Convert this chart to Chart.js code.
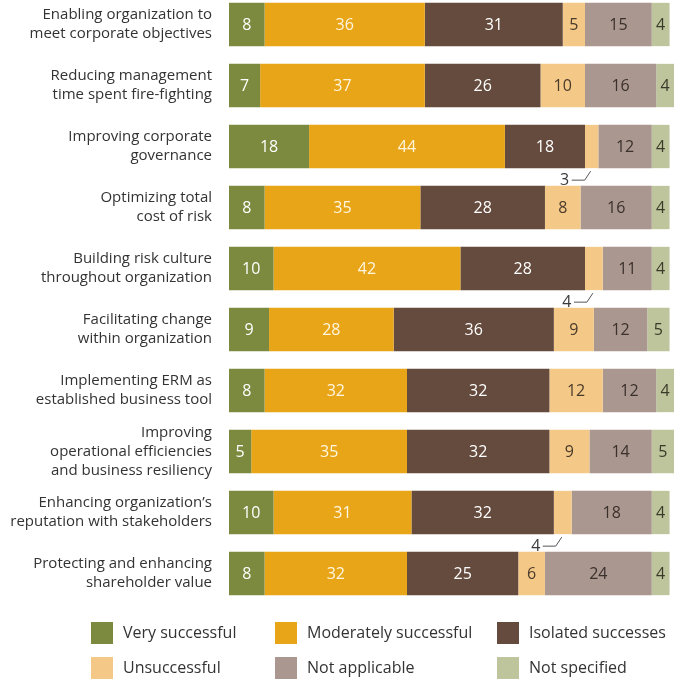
<!DOCTYPE html>
<html>
<head>
<meta charset="utf-8">
<script src="https://cdn.jsdelivr.net/npm/chart.js@4/dist/chart.umd.min.js"></script>
<style>
  html, body { margin: 0; padding: 0; background: #fff; overflow: hidden; }
  #wrap { position: absolute; left: 0; top: -6px; width: 680px; height: 689px; }
</style>
</head>
<body>
<div id="wrap"><canvas id="myChart" width="680" height="689"></canvas></div>
<script>
const categories = [
  ['Enabling organization to', 'meet corporate objectives'],
  ['Reducing management', 'time spent fire-fighting'],
  ['Improving corporate', 'governance'],
  ['Optimizing total', 'cost of risk'],
  ['Building risk culture', 'throughout organization'],
  ['Facilitating change', 'within organization'],
  ['Implementing ERM as', 'established business tool'],
  ['Improving', 'operational efficiencies', 'and business resiliency'],
  ['Enhancing organization\u2019s', 'reputation with stakeholders'],
  ['Protecting and enhancing', 'shareholder value']
];

const verySuccessful     = [8, 7, 18, 8, 10, 9, 8, 5, 10, 8];
const moderatelySuccess  = [36, 37, 44, 35, 42, 28, 32, 35, 31, 32];
const isolatedSuccesses  = [31, 26, 18, 28, 28, 36, 32, 32, 32, 25];
const unsuccessful       = [5, 10, 3, 8, 4, 9, 12, 9, 4, 6];
const notApplicable      = [15, 16, 12, 16, 11, 12, 12, 14, 18, 24];
const notSpecified       = [4, 4, 4, 4, 4, 5, 4, 5, 4, 4];

const FONT = '"Open Sans", "Noto Sans", sans-serif';

// value labels inside each segment; tiny "unsuccessful" values get a callout under the bar
const segmentLabels = {
  id: 'segmentLabels',
  afterDatasetsDraw(chart) {
    const ctx = chart.ctx;
    ctx.save();
    ctx.font = '16px ' + FONT;
    ctx.textBaseline = 'middle';
    ctx.textAlign = 'center';
    chart.data.datasets.forEach(function(ds, di) {
      const meta = chart.getDatasetMeta(di);
      meta.data.forEach(function(bar, i) {
        const v = ds.data[i];
        const left = Math.min(bar.x, bar.base);
        const cx = left + Math.abs(bar.x - bar.base) / 2;
        if (ds.callout && v < 5) {
          const bottom = bar.y + bar.height / 2;
          ctx.fillStyle = '#3a3a3a';
          ctx.fillText(v, cx - 27, bottom + 12);
          ctx.strokeStyle = '#555';
          ctx.lineWidth = 1;
          ctx.beginPath();
          ctx.moveTo(cx - 20, bottom + 12);
          ctx.lineTo(cx - 7, bottom + 12);
          ctx.lineTo(cx - 1, bottom + 3);
          ctx.stroke();
          return;
        }
        ctx.fillStyle = ds.labelColor;
        ctx.fillText(v, cx, bar.y + 1);
      });
    });
    ctx.restore();
  }
};

// three-column legend under the plot
const gridLegend = {
  id: 'gridLegend',
  afterDraw(chart) {
    const ctx = chart.ctx;
    const cols = [91, 275, 497];
    const rows = [639, 674];
    ctx.save();
    ctx.font = '16px ' + FONT;
    ctx.textBaseline = 'middle';
    ctx.textAlign = 'left';
    chart.data.datasets.forEach(function(ds, di) {
      const x = cols[di % 3];
      const y = rows[Math.floor(di / 3)];
      ctx.fillStyle = ds.backgroundColor;
      ctx.fillRect(x, y - 11, 22, 22);
      ctx.fillStyle = '#333';
      ctx.fillText(ds.label, x + 32, y);
    });
    ctx.restore();
  }
};

const ctx = document.getElementById('myChart').getContext('2d');

const chart = new Chart(ctx, {
  type: 'bar',
  data: {
    labels: categories,
    datasets: [
      { label: 'Very successful', data: verySuccessful, backgroundColor: '#7b8a3f', labelColor: '#ffffff' },
      { label: 'Moderately successful', data: moderatelySuccess, backgroundColor: '#e9a518', labelColor: '#fff6e0' },
      { label: 'Isolated successes', data: isolatedSuccesses, backgroundColor: '#654b3d', labelColor: '#ffffff' },
      { label: 'Unsuccessful', data: unsuccessful, backgroundColor: '#f4c988', labelColor: '#4a3a2a', callout: true },
      { label: 'Not applicable', data: notApplicable, backgroundColor: '#aa978f', labelColor: '#3a302c' },
      { label: 'Not specified', data: notSpecified, backgroundColor: '#bec59c', labelColor: '#3a3a2a' }
    ]
  },
  options: {
    indexAxis: 'y',
    responsive: false,
    animation: false,
    layout: { padding: { top: 0, right: 6, bottom: 79, left: 0 } },
    datasets: {
      bar: { categoryPercentage: 1, barPercentage: 0.71, borderWidth: 0 }
    },
    scales: {
      x: { stacked: true, min: 0, max: 100, display: false },
      y: {
        stacked: true,
        grid: { display: false },
        border: { display: false },
        afterFit(scale) {
          scale.width = 229;
          scale.paddingTop = 0;
          scale.paddingBottom = 0;
        },
        ticks: {
          autoSkip: false,
          padding: 9,
          color: '#333',
          font: { family: FONT, size: 15, lineHeight: 1.27 }
        }
      }
    },
    plugins: {
      legend: { display: false },
      tooltip: { enabled: false }
    }
  },
  plugins: [segmentLabels, gridLegend]
});
</script>
</body>
</html>
